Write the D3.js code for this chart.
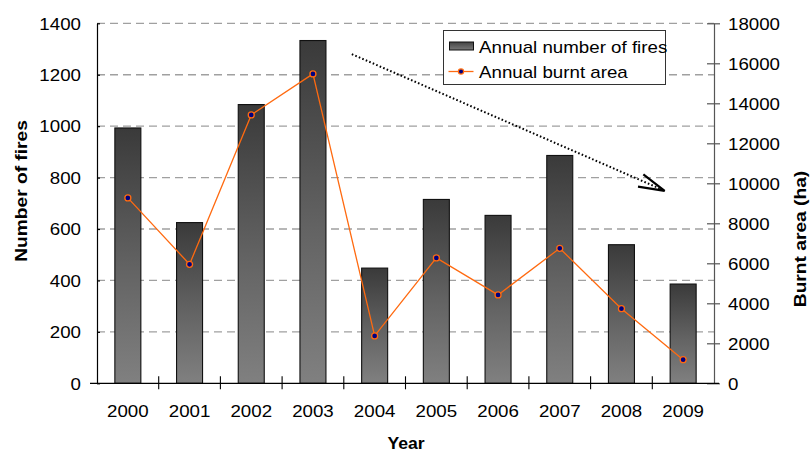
<!DOCTYPE html>
<html>
<head>
<meta charset="utf-8">
<script src="https://cdn.jsdelivr.net/npm/d3@7"></script>
<style>
  html, body { margin: 0; padding: 0; background: #fff; }
  svg { display: block; }
  text { font-family: "Liberation Sans", Arial, sans-serif; fill: #000; }
</style>
</head>
<body>
<svg id="chart" width="812" height="452"></svg>
<script>
// Fire statistics 2000–2009
const years = ["2000","2001","2002","2003","2004","2005","2006","2007","2008","2009"];
const fireCounts = [993, 625, 1084, 1333, 448, 715, 653, 886, 539, 386];
const burntArea = [9270, 5950, 13420, 15470, 2370, 6270, 4420, 6750, 3730, 1180];
const leftTicks = [0, 200, 400, 600, 800, 1000, 1200, 1400];
const rightTicks = [0, 2000, 4000, 6000, 8000, 10000, 12000, 14000, 16000, 18000];

const svg = d3.select("#chart");
const plot = { left: 97, right: 714, top: 23.3, bottom: 383.3 };
const SX = 1.17;           // horizontal stretch of the lettering
const FS = 16;
const plain = d3.format("d");

const x = d3.scaleBand().domain(years).range([plot.left, plot.right]).padding(0);
const yL = d3.scaleLinear().domain([0, 1400]).range([plot.bottom, plot.top]);
const yR = d3.scaleLinear().domain([0, 18000]).range([plot.bottom, plot.top]);
// continuous position across categories (0 = left edge, 10 = right edge) for annotations
const xi = d3.scaleLinear().domain([0, years.length]).range([plot.left, plot.right]);

const defs = svg.append("defs");
const grad = defs.append("linearGradient").attr("id", "barGrad")
  .attr("x1", 0).attr("y1", 0).attr("x2", 0).attr("y2", 1);
grad.append("stop").attr("offset", "0%").attr("stop-color", "#3a3a3a");
grad.append("stop").attr("offset", "55%").attr("stop-color", "#636363");
grad.append("stop").attr("offset", "100%").attr("stop-color", "#808080");

// dashed gridlines
svg.append("g").selectAll("line").data(leftTicks.filter(d => d > 0)).join("line")
  .attr("x1", plot.left).attr("x2", plot.right)
  .attr("y1", d => yL(d)).attr("y2", d => yL(d))
  .attr("stroke", "#a0a0a0").attr("stroke-width", 1.3)
  .attr("stroke-dasharray", "8,5");

// bars
const barW = 26;
svg.append("g").selectAll("rect").data(years).join("rect")
  .attr("x", (d) => x(d) + x.bandwidth() / 2 - barW / 2)
  .attr("width", barW)
  .attr("y", (d, i) => yL(fireCounts[i]))
  .attr("height", (d, i) => yL(0) - yL(fireCounts[i]))
  .attr("fill", "url(#barGrad)")
  .attr("stroke", "#111").attr("stroke-width", 1.1);

// burnt area line
const line = d3.line()
  .x((d, i) => x(years[i]) + x.bandwidth() / 2)
  .y(d => yR(d));
svg.append("path").datum(burntArea)
  .attr("d", line).attr("fill", "none")
  .attr("stroke", "#ff6a10").attr("stroke-width", 1.3);
svg.append("g").selectAll("circle").data(burntArea).join("circle")
  .attr("cx", (d, i) => x(years[i]) + x.bandwidth() / 2)
  .attr("cy", d => yR(d))
  .attr("r", 3)
  .attr("fill", "#000080").attr("stroke", "#ff6a10").attr("stroke-width", 1.3);

// left axis
const gL = svg.append("g").attr("transform", `translate(${plot.left},0)`)
  .call(d3.axisLeft(yL).tickValues(leftTicks).tickFormat(plain)
    .tickSize(7).tickPadding(0).tickSizeOuter(0));
gL.select(".domain").attr("stroke", "#000").attr("stroke-width", 1.2);
gL.selectAll(".tick line").attr("x2", 3).attr("stroke", "#000").attr("stroke-width", 1.2);
gL.selectAll(".tick text")
  .attr("x", -16 / SX).attr("dy", "0.36em")
  .attr("transform", `scale(${SX},1)`)
  .style("font-size", FS + "px").style("font-family", "Liberation Sans, Arial, sans-serif");

// right axis
const gR = svg.append("g").attr("transform", `translate(${plot.right},0)`)
  .call(d3.axisRight(yR).tickValues(rightTicks).tickFormat(plain)
    .tickSize(6).tickPadding(0).tickSizeOuter(0));
gR.select(".domain").attr("stroke", "#555").attr("stroke-width", 1.2);
gR.selectAll(".tick line").attr("x1", -7).attr("stroke", "#555").attr("stroke-width", 1.2);
gR.selectAll(".tick text")
  .attr("x", 14 / SX).attr("dy", "0.36em")
  .attr("transform", `scale(${SX},1)`)
  .style("font-size", FS + "px").style("font-family", "Liberation Sans, Arial, sans-serif");

// bottom axis: ticks between categories, crossing the baseline
const gB = svg.append("g");
gB.append("line")
  .attr("x1", plot.left - 7).attr("x2", plot.right + 5)
  .attr("y1", plot.bottom).attr("y2", plot.bottom)
  .attr("stroke", "#000").attr("stroke-width", 1.2);
gB.selectAll("line.sep").data(d3.range(1, years.length)).join("line")
  .attr("class", "sep")
  .attr("x1", d => xi(d)).attr("x2", d => xi(d))
  .attr("y1", plot.bottom - 7).attr("y2", plot.bottom + 6)
  .attr("stroke", "#000").attr("stroke-width", 1.1);
gB.selectAll("text").data(years).join("text")
  .attr("transform", d => `translate(${x(d) + x.bandwidth() / 2},417) scale(${SX},1)`)
  .attr("text-anchor", "middle")
  .style("font-size", FS + "px")
  .text(d => d);

// axis titles
svg.append("text")
  .attr("transform", `translate(406,449) scale(1.1,1)`)
  .attr("text-anchor", "middle").style("font-size", "16px").style("font-weight", "bold")
  .text("Year");
svg.append("text")
  .attr("transform", `translate(27,191) rotate(-90) scale(1.2,1)`)
  .attr("text-anchor", "middle").style("font-size", "16px").style("font-weight", "bold")
  .text("Number of fires");
svg.append("text")
  .attr("transform", `translate(806,239) rotate(-90) scale(1.2,1)`)
  .attr("text-anchor", "middle").style("font-size", "16px").style("font-weight", "bold")
  .text("Burnt area (ha)");

// trend arrow (dotted, open head), positioned in chart units
const arrowFrom = [4.13, 1280], arrowTo = [9.2, 748];
const ax0 = xi(arrowFrom[0]), ay0 = yL(arrowFrom[1]);
const ax1 = xi(arrowTo[0]), ay1 = yL(arrowTo[1]);
svg.append("line")
  .attr("x1", ax0).attr("y1", ay0).attr("x2", ax1 - 4).attr("y2", ay1 - 2)
  .attr("stroke", "#000").attr("stroke-width", 2)
  .attr("stroke-dasharray", "1.6,2.2");
const ang = Math.atan2(ay1 - ay0, ax1 - ax0);
const headLen = 27, spread = 0.25;
const head = [
  [ax1 - headLen * Math.cos(ang - spread), ay1 - headLen * Math.sin(ang - spread)],
  [ax1, ay1],
  [ax1 - headLen * Math.cos(ang + spread), ay1 - headLen * Math.sin(ang + spread)]
];
svg.append("path").attr("d", d3.line()(head))
  .attr("fill", "none").attr("stroke", "#000").attr("stroke-width", 2.2);

// legend
const lg = svg.append("g").attr("transform", "translate(443.5,30.5)");
lg.append("rect").attr("width", 222).attr("height", 54)
  .attr("fill", "#fff").attr("stroke", "#333").attr("stroke-width", 1);
const sg = defs.append("linearGradient").attr("id", "swGrad")
  .attr("x1", 0).attr("y1", 0).attr("x2", 0).attr("y2", 1);
sg.append("stop").attr("offset", "0%").attr("stop-color", "#444");
sg.append("stop").attr("offset", "100%").attr("stop-color", "#7a7a7a");
lg.append("rect").attr("x", 6).attr("y", 11.5).attr("width", 24).attr("height", 8)
  .attr("fill", "url(#swGrad)").attr("stroke", "#111").attr("stroke-width", 1);
lg.append("text").attr("transform", `translate(35.5,22) scale(${SX},1)`)
  .style("font-size", FS + "px").text("Annual number of fires");
lg.append("line").attr("x1", 5).attr("x2", 30).attr("y1", 41).attr("y2", 41)
  .attr("stroke", "#ff6a10").attr("stroke-width", 1.3);
lg.append("circle").attr("cx", 17.5).attr("cy", 41).attr("r", 2.6)
  .attr("fill", "#000080").attr("stroke", "#ff6a10").attr("stroke-width", 1.2);
lg.append("text").attr("transform", `translate(35.5,47.5) scale(${SX},1)`)
  .style("font-size", FS + "px").text("Annual burnt area");
</script>
</body>
</html>
